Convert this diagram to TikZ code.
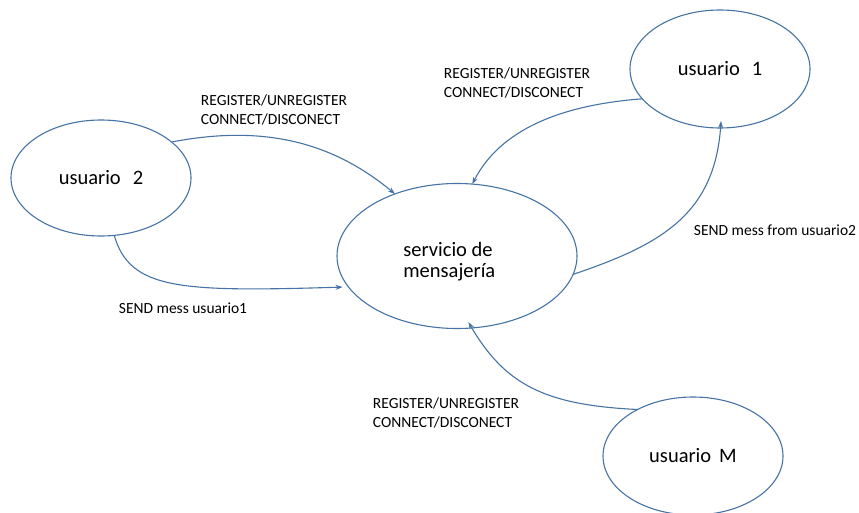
\documentclass[tikz,border=0pt]{standalone}
\usepackage{fontspec}
\setmainfont{Carlito}
\usetikzlibrary{arrows.meta,shapes.geometric}
\definecolor{edgeblue}{RGB}{70,115,165}
\begin{document}
\begin{tikzpicture}[x=1pt,y=-1pt,
  ell/.style={draw=edgeblue, line width=1.1pt, ellipse, inner sep=0pt, outer sep=0pt,
    font=\fontsize{20.5}{22}\selectfont, text=black},
  arr/.style={draw=edgeblue, line width=1.1pt, -{Stealth[length=7pt,width=5pt]}},
  lbl/.style={align=left, inner sep=0pt, font=\fontsize{15.5}{18.5}\selectfont, text=black}]
\useasboundingbox (0,0) rectangle (859,513);
\node[ell, minimum width=180pt, minimum height=116pt] (u2) at (101,178) {usuario\hspace{12pt}2};
\node[ell, minimum width=180pt, minimum height=118pt] (u1) at (720,69) {usuario\hspace{12pt}1};
\node[ell, minimum width=240pt, minimum height=145pt, align=left] (serv) at (457,256) {\rule{0pt}{25pt}servicio de\hspace*{18pt}\\[-1pt]mensajería};
\node[ell, minimum width=180pt, minimum height=118pt] (uM) at (693,456) {usuario\hspace{8pt}M};

\draw[arr] (u2.27) .. controls (260,125) and (330,140) .. (serv.135);
\draw[arr] (u2.-77) .. controls (130,290) and (180,292) .. ([xshift=-6pt]serv.-164);
\draw[arr] (u1.201) .. controls (560,105) and (500,130) .. (serv.78);
\draw[arr] (serv.-9) .. controls (660,245) and (715,215) .. ([yshift=7pt]u1.-89);
\draw[arr] (uM.140) .. controls (545,405) and (505,385) .. ([yshift=6pt]serv.-81);

\node[lbl] (l1) at (274,110) {REGISTER/UNREGISTER\\CONNECT/DISCONECT};
\node[lbl] (l2) at (517,83) {REGISTER/UNREGISTER\\CONNECT/DISCONECT};
\node[lbl] (l3) at (446,413) {REGISTER/UNREGISTER\\CONNECT/DISCONECT};
\node[lbl] (l4) at (183,308) {SEND mess usuario1};
\node[lbl] (l5) at (775,230) {SEND mess from usuario2};
\end{tikzpicture}
\end{document}
